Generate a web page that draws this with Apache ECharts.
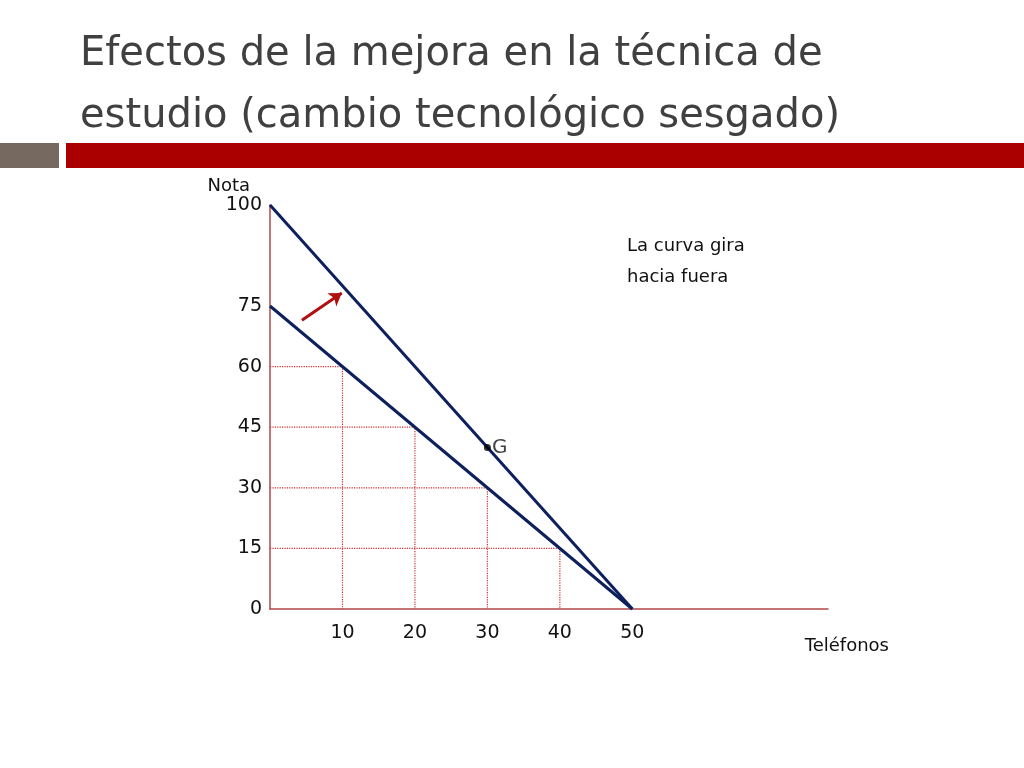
<!DOCTYPE html>
<html>
<head>
<meta charset="utf-8">
<script src="https://cdn.jsdelivr.net/npm/echarts@6/dist/echarts.min.js"></script>
<style>
html, body { margin: 0; padding: 0; background: #fff; }
#chart { width: 1024px; height: 768px; }
</style>
</head>
<body>
<div id="chart"></div>
<script>
// datos
var yTickLabels = [0, 15, 30, 45, 60, 75, 100];
var xTickLabels = [10, 20, 30, 40, 50];
var curvaInicial = [[0, 75], [50, 0]];
var curvaNueva = [[0, 100], [50, 0]];
var puntosGuia = [[10, 60], [20, 45], [30, 30], [40, 15]];
var puntoG = [30, 40];
var flecha = [[4.4, 71.5], [9.9, 78.2]];

var myChart = echarts.init(document.getElementById('chart'));

var FONT = '"DejaVu Sans", sans-serif';

var series = [];

// lineas punteadas hasta la curva
puntosGuia.forEach(function(p, i) {
	series.push({
		type: 'line',
		data: [[0, p[1]], [p[0], p[1]], [p[0], 0]],
		symbol: 'none',
		silent: true,
		lineStyle: { color: '#d03030', width: 1.2, type: 'dotted' },
		z: 1
	});
});

series.push({
	type: 'line',
	data: curvaInicial,
	symbol: 'none',
	lineStyle: { color: '#0d1f5c', width: 3 },
	z: 3
});
series.push({
	type: 'line',
	data: curvaNueva,
	symbol: 'none',
	lineStyle: { color: '#0d1f5c', width: 3 },
	z: 3
});

series.push({
	type: 'scatter',
	data: [puntoG],
	symbolSize: 7,
	itemStyle: { color: '#000' },
	label: {
		show: true,
		position: 'right',
		distance: 1,
		formatter: 'G',
		color: '#111',
		fontSize: 20,
		fontFamily: FONT
	},
	z: 4
});

// flecha roja
series.push({
	type: 'line',
	data: [],
	symbol: 'none',
	markLine: {
		silent: true,
		symbol: ['none', 'arrow'],
		symbolSize: 12,
		label: { show: false },
		lineStyle: { color: '#b01010', width: 3, type: 'solid' },
		data: [[{ coord: flecha[0] }, { coord: flecha[1] }]]
	}
});

var option = {
	animation: false,
	backgroundColor: '#fff',
	grid: { left: 270, right: 196, top: 205, bottom: 159 },
	xAxis: {
		type: 'value',
		min: 0,
		max: 77,
		interval: 10,
		name: 'Teléfonos',
		nameLocation: 'end',
		nameGap: 61,
		nameTextStyle: {
			color: '#111', fontSize: 18, fontFamily: FONT,
			align: 'right', verticalAlign: 'top', padding: [28, 0, 0, 0]
		},
		axisLine: { lineStyle: { color: '#b04848', width: 1.5 } },
		axisTick: { show: false },
		splitLine: { show: false },
		axisLabel: {
			margin: 15,
			color: '#111',
			fontSize: 19,
			fontFamily: FONT,
			formatter: function(v) {
				return xTickLabels.indexOf(v) >= 0 ? String(v) : '';
			}
		}
	},
	yAxis: {
		type: 'value',
		min: 0,
		max: 100,
		interval: 5,
		name: 'Nota',
		nameLocation: 'end',
		nameGap: 8,
		nameTextStyle: {
			color: '#111', fontSize: 18, fontFamily: FONT,
			align: 'right', padding: [0, 20, 0, 0]
		},
		axisLine: { show: true, lineStyle: { color: '#b04848', width: 1.5 } },
		axisTick: { show: false },
		splitLine: { show: false },
		axisLabel: {
			margin: 8,
			color: '#111',
			fontSize: 19,
			fontFamily: FONT,
			formatter: function(v) {
				return yTickLabels.indexOf(v) >= 0 ? String(v) : '';
			}
		}
	},
	graphic: [
		{
			type: 'text', left: 80, top: 24,
			style: {
				text: 'Efectos de la mejora en la técnica de\nestudio (cambio tecnológico sesgado)',
				fill: '#404040', fontSize: 40, lineHeight: 62, fontFamily: FONT
			}
		},
		{ type: 'rect', shape: { x: 0, y: 143, width: 59, height: 25 }, style: { fill: '#766a60' } },
		{ type: 'rect', shape: { x: 66, y: 143, width: 958, height: 25 }, style: { fill: '#aa0000' } },
		{
			type: 'text', left: 627, top: 231,
			style: {
				text: 'La curva gira\nhacia fuera',
				fill: '#111', fontSize: 18, lineHeight: 31, fontFamily: FONT
			}
		}
	],
	series: series
};

myChart.setOption(option);
</script>
</body>
</html>
